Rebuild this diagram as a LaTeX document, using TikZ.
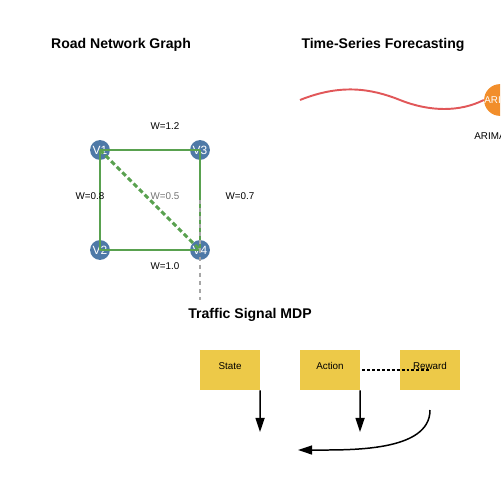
\documentclass[tikz,border=0pt]{standalone}
\usepackage{fontspec}
\setmainfont{Liberation Sans}
\usetikzlibrary{arrows.meta}
\definecolor{nodeblue}{HTML}{4E79A7}
\definecolor{edgegreen}{HTML}{59A14F}
\definecolor{curvered}{HTML}{E15759}
\definecolor{arimaorange}{HTML}{F28E2B}
\definecolor{boxyellow}{HTML}{EDC948}
\tikzset{
  title/.style={font=\fontsize{8}{9.6}\selectfont\bfseries},
  vertex/.style={circle, fill=nodeblue, minimum size=11.3pt, inner sep=0, text=white, font=\fontsize{6.8}{8}\selectfont},
  road/.style={edgegreen, line width=1.7pt},
  weight/.style={font=\fontsize{5.6}{6.7}\selectfont},
  mdpbox/.style={fill=boxyellow, minimum width=34pt, minimum height=22.7pt, inner sep=0},
  boxtext/.style={font=\fontsize{5.6}{6.7}\selectfont},
  flow/.style={line width=0.85pt, -{Triangle[length=8pt, width=5.1pt]}}
}
\begin{document}
\begin{tikzpicture}[x=0.02cm, y=-0.02cm]
			%%%%% START %%%%%
			\useasboundingbox (0, 0) rectangle (500, 500);
			\clip (0, 0) rectangle (500, 500);
			
			\node[title] (roadtitle) at (121, 45) {Road Network Graph};
			\node[title] (seriestitle) at (383, 45) {Time-Series Forecasting};
			\node[title] (mdptitle) at (250, 315) {Traffic Signal MDP};
			
			\node[vertex] (v1) at (100, 150) {V1};
			\node[vertex] (v3) at (200, 150) {V3};
			\node[vertex] (v2) at (100, 250) {V2};
			\node[vertex] (v4) at (200, 250) {V4};
			
			\draw[road] (v1.center) -- (v3.center);
			\draw[road] (v1.center) -- (v2.center);
			\draw[road] (v2.center) -- (v4.center);
			\draw[road] (v3.center) -- (v4.center);
			\draw[road, dash pattern=on 2.8pt off 1.7pt] (v1.center) -- (v4.center);
			
			\node[weight] (w13) at (165, 126) {W=1.2};
			\node[weight] (w12) at (90, 196) {W=0.8};
			\node[weight, text=black!55] (w14) at (165, 196) {W=0.5};
			\node[weight] (w34) at (240, 196) {W=0.7};
			\node[weight] (w24) at (165, 266) {W=1.0};
			
			\coordinate (linktop) at (200, 200);
			\coordinate (linkbot) at (200, 300);
			\draw[black!35, line width=1.1pt, dash pattern=on 2.3pt off 2.3pt] (linktop) -- (linkbot);
			
			\coordinate (seriesstart) at (300, 100);
			\node[circle, fill=arimaorange, minimum size=17pt, inner sep=0, text=white, font=\fontsize{5.6}{6.7}\selectfont] (arima) at (500, 100) {ARIMA};
			\draw[curvered, line width=1.1pt] (seriesstart) .. controls (340, 84) and (370, 88) .. (400, 100) .. controls (430, 112) and (460, 112) .. (arima.west);
			\node[weight] (arimalabel) at (490, 136) {ARIMA};
			
			\node[mdpbox] (state) at (230, 370) {};
			\node[mdpbox] (action) at (330, 370) {};
			\node[mdpbox] (reward) at (430, 370) {};
			\node[boxtext] at (230, 366) {State};
			\node[boxtext] at (330, 366) {Action};
			\node[boxtext] at (430, 366) {Reward};
			
			\coordinate (dotend) at (430, 370);
			\draw[line width=0.85pt, dash pattern=on 1.7pt off 1.1pt] (action.east) ++(2, 0) -- (dotend);
			
			\coordinate (statearrow) at (260, 432);
			\coordinate (actionarrow) at (360, 432);
			\coordinate (rewardstart) at (430, 410);
			\coordinate (rewardarrow) at (298, 450);
			\draw[flow] (state.south east) -- (statearrow);
			\draw[flow] (action.south east) -- (actionarrow);
			\draw[flow] (rewardstart) .. controls (430, 452) and (350, 450) .. (rewardarrow);
			
			%%%%% END %%%%%
\end{tikzpicture}
\end{document}
